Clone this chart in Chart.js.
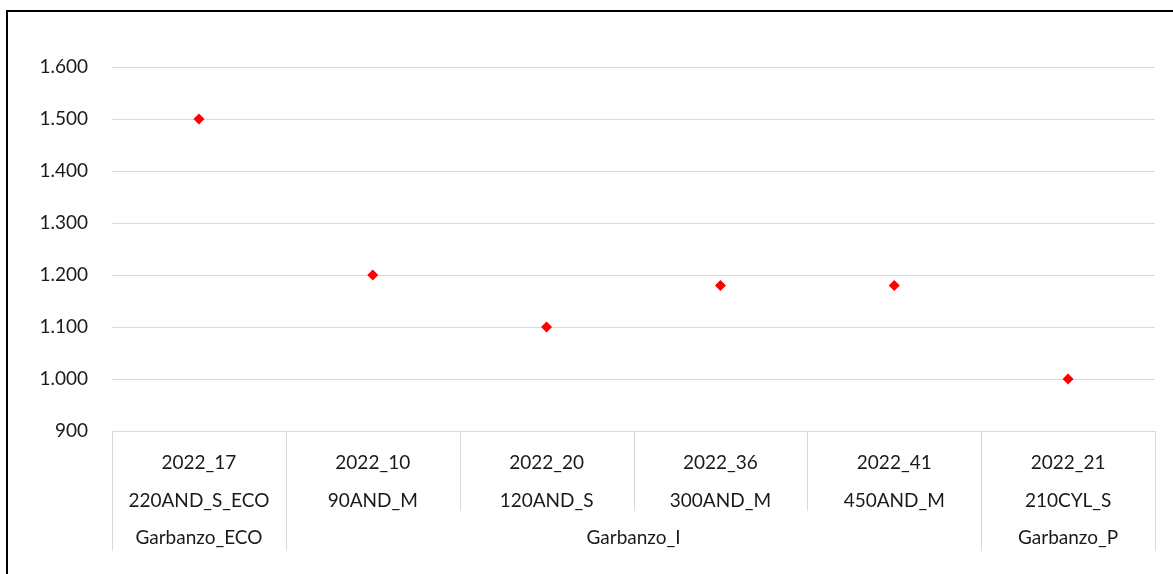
<!DOCTYPE html>
<html>
<head>
<meta charset="utf-8">
<script src="https://cdn.jsdelivr.net/npm/chart.js@4"></script>
<style>
  html, body { margin: 0; padding: 0; overflow: hidden; background: #fff; }
  #frame { position: absolute; left: 6px; top: 10px; width: 1300px; height: 700px; border: 2px solid #000; }
  #wrap { position: absolute; left: 0; top: 0; width: 1173px; height: 574px; }
</style>
</head>
<body>
<div id="frame"></div>
<div id="wrap"><canvas id="myChart" width="1173" height="574"></canvas></div>
<script>
'use strict';

let ids = ['2022_17', '2022_10', '2022_20', '2022_36', '2022_41', '2022_21'];
let names = ['220AND_S_ECO', '90AND_M', '120AND_S', '300AND_M', '450AND_M', '210CYL_S'];
let groups = ['Garbanzo_ECO', 'Garbanzo_I', 'Garbanzo_I', 'Garbanzo_I', 'Garbanzo_I', 'Garbanzo_P'];
let values = [1500, 1200, 1100, 1180, 1180, 1000];
let yTicks = [900, 1000, 1100, 1200, 1300, 1400, 1500, 1600];

let fontFamily = 'Lato, "Open Sans", sans-serif';
let lineColor = '#d9d9d9';
let textColor = '#1a1a1a';

let labels = [];
for (let i = 0; i < ids.length; i++) {
    labels.push([ids[i], names[i]]);
}

function formatNum(v) {
    return String(v).replace(/\B(?=(\d{3})+(?!\d))/g, '.');
}

// draws the category separators and the group row under the x axis
let groupAxis = {
    id: 'groupAxis',
    afterDraw(chart) {
        let ctx = chart.ctx;
        let x = chart.scales.x;
        let top = x.top;
        let half = (x.getPixelForValue(1) - x.getPixelForValue(0)) / 2;
        ctx.save();
        ctx.strokeStyle = lineColor;
        ctx.lineWidth = 1;
        for (let i = 0; i <= ids.length; i++) {
            let px = Math.round(x.getPixelForValue(i) - half) + 0.5;
            let isGroupEdge = i === 0 || i === ids.length || groups[i] !== groups[i - 1];
            ctx.beginPath();
            ctx.moveTo(px, top);
            ctx.lineTo(px, top + (isGroupEdge ? 120 : 80));
            ctx.stroke();
        }
        ctx.fillStyle = textColor;
        ctx.font = '19px ' + fontFamily;
        ctx.textAlign = 'center';
        ctx.textBaseline = 'middle';
        let start = 0;
        for (let i = 1; i <= groups.length; i++) {
            if (i === groups.length || groups[i] !== groups[start]) {
                let center = (x.getPixelForValue(start) + x.getPixelForValue(i - 1)) / 2;
                ctx.fillText(groups[start], center, top + 107);
                start = i;
            }
        }
        ctx.restore();
    }
};

let ctx = document.getElementById('myChart').getContext('2d');
let myChart = new Chart(ctx, {
    type: 'line',
    data: {
        labels: labels,
        datasets: [{
            data: values,
            showLine: false,
            pointStyle: 'rectRot',
            pointRadius: 5.5,
            pointBackgroundColor: '#ff0000',
            pointBorderColor: '#ff0000',
            pointBorderWidth: 0
        }]
    },
    options: {
        responsive: false,
        animation: false,
        layout: {
            padding: { top: 67, right: 18, left: 0, bottom: 0 }
        },
        plugins: {
            legend: { display: false },
            tooltip: { enabled: false }
        },
        scales: {
            x: {
                offset: true,
                grid: { display: false },
                border: { display: true, color: lineColor, width: 1 },
                ticks: {
                    color: textColor,
                    padding: 5,
                    maxRotation: 0,
                    autoSkip: false,
                    font: { family: fontFamily, size: 19, lineHeight: 2 }
                },
                afterFit(scale) {
                    scale.height = 143;
                }
            },
            y: {
                min: 900,
                max: 1600,
                afterBuildTicks(scale) {
                    scale.ticks = yTicks.map(v => ({ value: v }));
                },
                grid: { color: lineColor, drawTicks: false },
                border: { display: false },
                ticks: {
                    color: textColor,
                    padding: 24,
                    font: { family: fontFamily, size: 19 },
                    callback: v => formatNum(v)
                },
                afterFit(scale) {
                    scale.width = 112;
                }
            }
        }
    },
    plugins: [groupAxis]
});
</script>
</body>
</html>
